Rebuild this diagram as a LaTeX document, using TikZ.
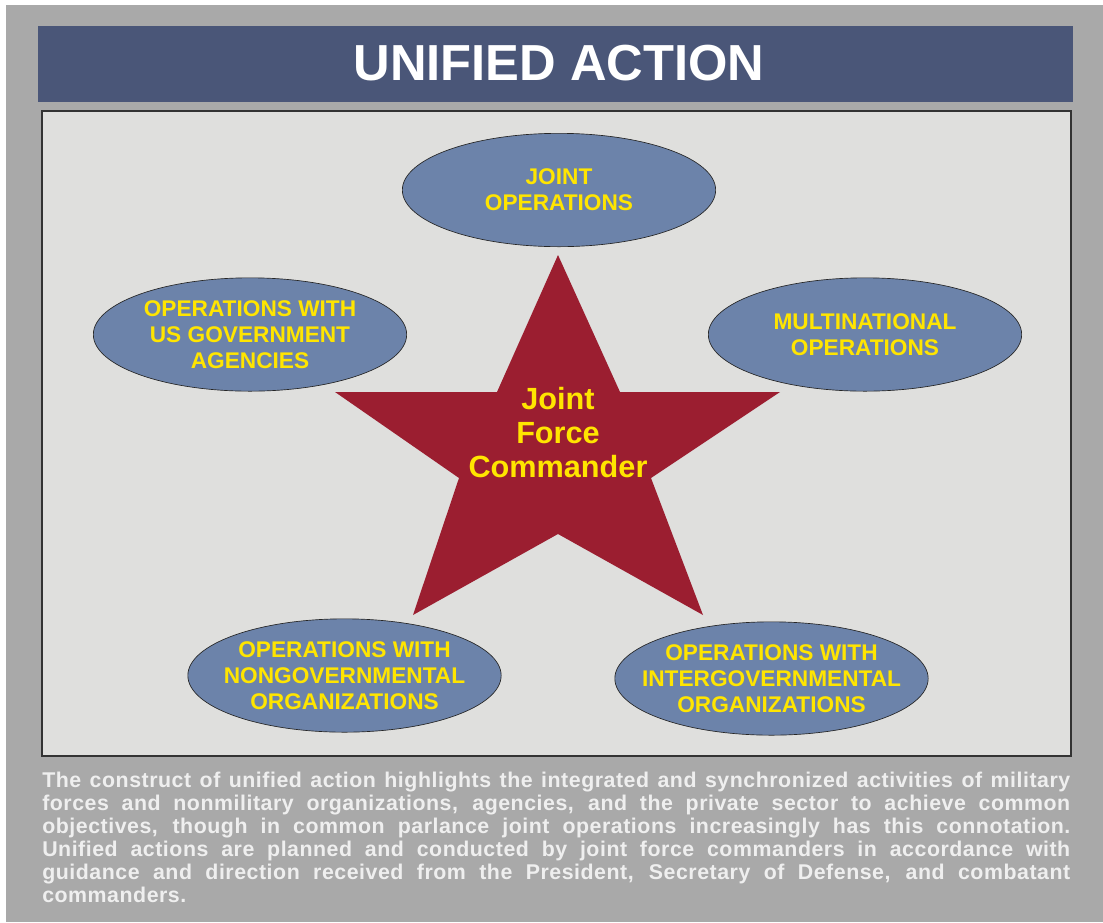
\documentclass[tikz,border=0pt]{standalone}
\usepackage{fontspec}
\setmainfont{Liberation Sans}
\newfontfamily\notefont[LetterSpace=2.5]{Liberation Sans}
\usetikzlibrary{shapes.geometric}

\definecolor{framegray}{HTML}{A9A9A9}
\definecolor{titleblue}{HTML}{4A5678}
\definecolor{panelgray}{HTML}{DFDFDD}
\definecolor{opsblue}{HTML}{6C83AA}
\definecolor{starred}{HTML}{9B1E30}
\definecolor{labelyellow}{HTML}{FFE500}
\definecolor{notewhite}{HTML}{EFEFEF}

\tikzset{
    opsellipse/.style={ellipse, draw=black!85, line width=0.5pt, fill=opsblue,
        minimum width=235pt, minimum height=85pt, inner xsep=-25pt, inner ysep=0pt, align=center,
        text=labelyellow, font=\bfseries\fontsize{17}{19.5}\selectfont},
}

\begin{document}
\begin{tikzpicture}[x=0.75pt, y=0.75pt, yscale=-1]
    \useasboundingbox (0,0) rectangle (1103,922);
    \fill [white] (0,0) rectangle (1103,922);
    \fill [framegray] (6,5) rectangle (1103,922);

    % title bar
    \fill [titleblue] (38,26) rectangle (1073,102);
    \node [text=white, font=\bfseries\fontsize{38}{40}\selectfont] (title) at (559,63) {UNIFIED ACTION};

    % panel with star
    \draw [fill=panelgray, draw=black!80, line width=0.8pt] (42,111) rectangle (1071,756);
    \fill [starred] (558,255) -- (620,392) -- (780,392) -- (651,478) -- (703,615) -- (558,534)
        -- (413,615) -- (459,478) -- (335,392) -- (497,392) -- cycle;
    \node [align=center, text=labelyellow, font=\bfseries\fontsize{23}{25.5}\selectfont] (jfc) at (558,433) {Joint\\Force\\Commander};

    \node [opsellipse] (joint) at (559,190) {JOINT\\OPERATIONS};
    \node [opsellipse] (usgov) at (250,334.5) {OPERATIONS WITH\\US GOVERNMENT\\AGENCIES};
    \node [opsellipse] (multi) at (865,334.5) {MULTINATIONAL\\OPERATIONS};
    \node [opsellipse] (ngo) at (344.5,675.5) {OPERATIONS WITH\\NONGOVERNMENTAL\\ORGANIZATIONS};
    \node [opsellipse] (igo) at (771.5,678.5) {OPERATIONS WITH\\INTERGOVERNMENTAL\\ORGANIZATIONS};

    % caption
    \node [anchor=base west, inner sep=0pt, text width=771pt, align=justify, text=notewhite,
        font=\notefont\bfseries\fontsize{16}{17.25}\selectfont] (note) at (42,787)
        {The construct of unified action highlights the integrated and synchronized activities of military\linebreak
        forces and nonmilitary organizations, agencies, and the private sector to achieve common\linebreak
        objectives, though in common parlance joint operations increasingly has this connotation.\linebreak
        Unified actions are planned and conducted by joint force commanders in accordance with\linebreak
        guidance and direction received from the President, Secretary of Defense, and combatant\linebreak
        commanders.};
\end{tikzpicture}
\end{document}
